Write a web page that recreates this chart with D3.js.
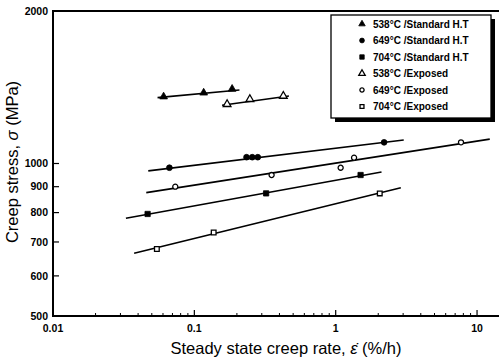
<!DOCTYPE html>
<html>
<head>
<meta charset="utf-8">
<script src="https://cdn.jsdelivr.net/npm/d3@7"></script>
<style>
  body { margin: 0; background: #fff; }
  text { font-family: "Liberation Sans", Arial, sans-serif; }
</style>
</head>
<body>
<div id="chart"></div>
<script>
// series names, legend order
const seriesNames = ["538°C /Standard H.T", "649°C /Standard H.T", "704°C /Standard H.T",
                     "538°C /Exposed", "649°C /Exposed", "704°C /Exposed"]
const seriesShape = ["triangle", "circle", "square", "triangle", "circle", "square"]
const seriesFilled = [true, true, true, false, false, false]

// measured points: creep rate (%/h) and stress (MPa)
const rate538std = [0.0606, 0.1164, 0.185]
const stress538std = [1355, 1379, 1403]
const rate649std = [0.0666, 0.234, 0.257, 0.281, 2.20]
const stress649std = [981, 1029, 1029, 1029, 1101]
const rate704std = [0.0467, 0.322, 1.50]
const stress704std = [795, 873, 949]
const rate538exp = [0.1705, 0.247, 0.426]
const stress538exp = [1309, 1339, 1359]
const rate649exp = [0.0733, 0.352, 1.084, 1.349, 7.7]
const stress649exp = [900, 949, 981, 1027, 1101]
const rate704exp = [0.0543, 0.137, 2.05]
const stress704exp = [678, 731, 873]

// fitted lines (start / end)
const fitRate = [[0.0549, 0.2085], [0.0472, 3.03], [0.0328, 2.11], [0.157, 0.467], [0.0457, 12.3], [0.0375, 2.89]]
const fitStress = [[1349, 1397], [967, 1113], [780, 962], [1303, 1359], [876, 1117], [665, 896]]

const xTicks = [0.01, 0.1, 1, 10]
const xTickLabels = ["0.01", "0.1", "1", "10"]
const yTicks = [500, 600, 700, 800, 900, 1000, 2000]

const rates = [rate538std, rate649std, rate704std, rate538exp, rate649exp, rate704exp]
const stresses = [stress538std, stress649std, stress704std, stress538exp, stress649exp, stress704exp]

const width = 499, height = 358
const mLeft = 53, mTop = 11, mRight = 499, mBottom = 316

const svg = d3.select("#chart").append("svg")
    .attr("width", width)
    .attr("height", height)

const x = d3.scaleLog().domain([0.01, 14.3]).range([mLeft, mRight])
const y = d3.scaleLog().domain([500, 2000]).range([mBottom, mTop])

// fitted lines
const line = d3.line().x(d => x(d[0])).y(d => y(d[1]))
fitRate.forEach(function(r, i){
    svg.append("path")
        .attr("d", line([[r[0], fitStress[i][0]], [r[1], fitStress[i][1]]]))
        .attr("fill", "none")
        .attr("stroke", "#000")
        .attr("stroke-width", 1.6)
})

// markers
function marker(g, shape, filled, k){
    k = k || 1
    let sym
    if(shape === "triangle") sym = d3.symbol(d3.symbolTriangle, 26 * k)
    else if(shape === "circle") sym = d3.symbol(d3.symbolCircle, (filled ? 26 : 20) * k)
    else sym = d3.symbol(d3.symbolSquare, (filled ? 28 : 22) * k)
    g.append("path")
        .attr("d", sym())
        .attr("fill", filled ? "#000" : "#fff")
        .attr("stroke", "#000")
        .attr("stroke-width", filled ? 0.8 : 1.3)
}

rates.forEach(function(r, i){
    r.forEach(function(v, j){
        const g = svg.append("g")
            .attr("transform", `translate(${x(v)},${y(stresses[i][j])})`)
        marker(g, seriesShape[i], seriesFilled[i])
    })
})

// axes
const xAxis = svg.append("g").attr("transform", `translate(0,${mBottom})`)
const minorX = []
for(let e = -2; e <= 1; e++){
    for(let k = 2; k <= 9; k++){
        const v = k * Math.pow(10, e)
        if(v < 14.3) minorX.push(v)
    }
}
xAxis.selectAll(".minor").data(minorX).enter().append("line")
    .attr("x1", d => x(d)).attr("x2", d => x(d))
    .attr("y1", 0).attr("y2", -3)
    .attr("stroke", "#000").attr("stroke-width", 1)
xAxis.selectAll(".major").data(xTicks).enter().append("line")
    .attr("x1", d => x(d)).attr("x2", d => x(d))
    .attr("y1", 0).attr("y2", -6)
    .attr("stroke", "#000").attr("stroke-width", 1.2)
xAxis.selectAll(".lab").data(xTicks).enter().append("text")
    .attr("x", d => x(d)).attr("y", 16)
    .attr("text-anchor", "middle")
    .attr("font-size", 10.5).attr("font-weight", "bold")
    .text((d, i) => xTickLabels[i])

const yAxis = svg.append("g").attr("transform", `translate(${mLeft},0)`)
yAxis.selectAll(".major").data(yTicks).enter().append("line")
    .attr("x1", 0).attr("x2", 6)
    .attr("y1", d => y(d)).attr("y2", d => y(d))
    .attr("stroke", "#000").attr("stroke-width", 1.2)
yAxis.selectAll(".lab").data(yTicks).enter().append("text")
    .attr("x", -5).attr("y", d => y(d) + 3.8)
    .attr("text-anchor", "end")
    .attr("font-size", 10.5).attr("font-weight", "bold")
    .text(d => d)

// frame: left, bottom, top
svg.append("path")
    .attr("d", `M${mRight},${mTop}H${mLeft}V${mBottom}H${mRight}`)
    .attr("fill", "none")
    .attr("stroke", "#000")
    .attr("stroke-width", 2)

// axis titles
svg.append("text")
    .attr("x", 286).attr("y", 354)
    .attr("text-anchor", "middle")
    .attr("font-size", 16.5)
    .html('Steady state creep rate, <tspan font-style="italic">ε̇</tspan> (%/h)')
svg.append("text")
    .attr("transform", "translate(18,162) rotate(-90)")
    .attr("text-anchor", "middle")
    .attr("font-size", 16.5)
    .html('Creep stress, <tspan font-style="italic">σ</tspan> (MPa)')

// legend with shadow
const lx = 331, ly = 15, lw = 160, lh = 103
svg.append("rect")
    .attr("x", lx + 4).attr("y", ly + 4).attr("width", lw).attr("height", lh)
    .attr("fill", "#000")
svg.append("rect")
    .attr("x", lx).attr("y", ly).attr("width", lw).attr("height", lh)
    .attr("fill", "#fff").attr("stroke", "#000").attr("stroke-width", 1.3)

seriesNames.forEach(function(name, i){
    const ry = ly + 9 + i * 16.5
    const g = svg.append("g").attr("transform", `translate(${lx + 31},${ry})`)
    marker(g, seriesShape[i], seriesFilled[i], 0.7)
    svg.append("text")
        .attr("x", lx + 42).attr("y", ry + 3.5)
        .attr("font-size", 10).attr("font-weight", "bold")
        .text(name)
})
</script>
</body>
</html>
